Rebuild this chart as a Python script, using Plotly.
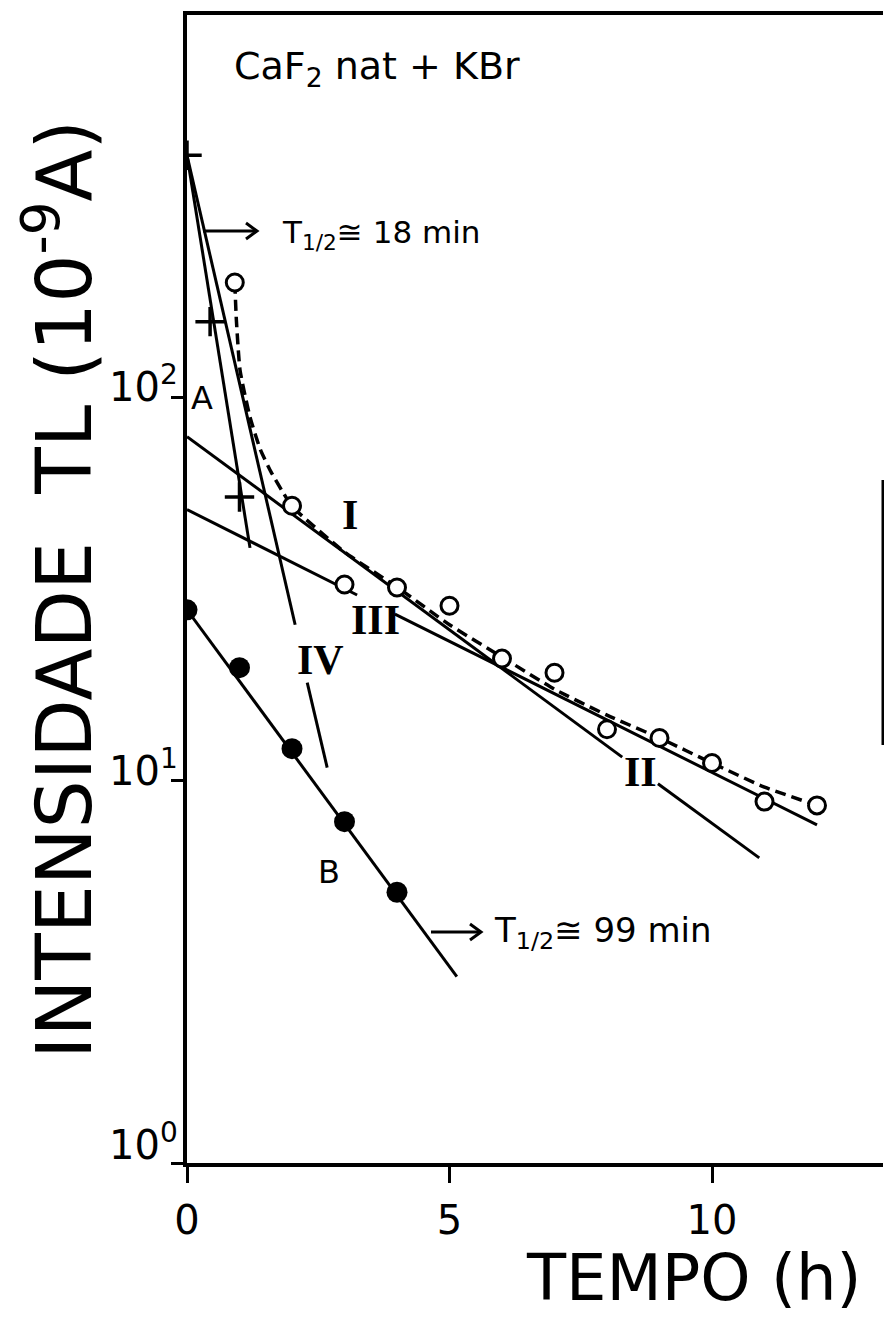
import plotly.graph_objects as go

# ---- data (time in hours, TL intensity in 1e-9 A) ----
# curve A: open circles (total decay)
a_time = [0.91, 2, 3, 4, 5, 6, 7, 8, 9, 10, 11, 12]
a_int = [200, 52.2, 32.5, 31.9, 28.6, 20.8, 19.1, 13.6, 12.9, 11.1, 8.8, 8.6]

# dashed smooth curve through curve A
a_fit_time = [0.91, 0.94, 1.01, 1.2, 1.4, 1.6, 1.83, 2.0, 3.0, 4.0, 5.0, 6.0, 7.0, 8.0, 9.0, 10.0, 11.0, 12.0]
a_fit_int = [200, 160, 118, 89, 73, 64, 56.5, 52, 39.5, 32, 25.5, 21, 17.3, 14.8, 12.9, 11.1, 9.6, 8.6]

# crosses: fast component after subtraction
plus_time = [0, 0.44, 1.0]
plus_int = [430, 158, 55]

# curve B: filled circles
b_time = [0, 1, 2, 3, 4]
b_int = [27.9, 19.7, 12.1, 7.8, 5.1]

# straight-line components (end points; None leaves room for a label)
fast_time = [0, 1.2]          # T1/2 ~ 18 min
fast_int = [430, 40.5]
b_line_time = [0, 5.14]       # T1/2 ~ 99 min
b_line_int = [27.9, 3.07]
line1_time = [0, 8.29, None, 8.97, 10.9]   # lines I / II
line1_int = [79.1, 11.5, None, 9.8, 6.27]
line3_time = [0, 3.24, None, 3.96, 12.0]   # line III
line3_int = [51.0, 30.5, None, 27.2, 7.65]
line4_time = [0, 2.06, None, 2.29, 2.67]   # line IV
line4_int = [430, 25.5, None, 18.0, 10.8]

# ---- layout geometry (pixels) ----
W, H = 884, 1320
L, R, T, B = 187, 883, 15, 1163


def px(x):
    return (x - L) / (R - L)


def py(y):
    return (B - y) / (B - T)


fig = go.Figure()

solid = dict(color="black", width=3)
for xs, ys in [(fast_time, fast_int), (b_line_time, b_line_int), (line1_time, line1_int),
               (line3_time, line3_int), (line4_time, line4_int)]:
    fig.add_trace(go.Scatter(x=xs, y=ys, mode="lines", line=solid, connectgaps=False,
                             hoverinfo="skip", showlegend=False))

fig.add_trace(go.Scatter(x=a_fit_time, y=a_fit_int, mode="lines",
                         line=dict(color="black", width=3.5, dash="11px,6px", shape="spline", smoothing=0.5),
                         hoverinfo="skip", showlegend=False))

fig.add_trace(go.Scatter(x=b_time, y=b_int, mode="markers",
                         marker=dict(symbol="circle", size=21, color="black"), showlegend=False))
fig.add_trace(go.Scatter(x=a_time, y=a_int, mode="markers",
                         marker=dict(symbol="circle", size=17, color="white",
                                     line=dict(color="black", width=3)), showlegend=False))
fig.add_trace(go.Scatter(x=plus_time, y=plus_int, mode="markers",
                         marker=dict(symbol="cross-thin", size=21,
                                     line=dict(color="black", width=3.5)), showlegend=False))

font_sans = "DejaVu Sans"
font_serif = "Liberation Serif"

ann = []


def text(x, y, s, size, anchor="center", family=font_sans, angle=0):
    ann.append(dict(x=px(x), y=py(y), xref="paper", yref="paper", text=s, showarrow=False,
                    xanchor=anchor, yanchor="middle", textangle=angle,
                    font=dict(family=family, size=size, color="black")))


text(232, 68, "CaF<sub>2</sub> nat + KBr", 38, anchor="left")
text(280, 234, "T<sub>1/2</sub>≅ 18 min", 31, anchor="left")
text(492, 932, "T<sub>1/2</sub>≅ 99 min", 34, anchor="left")
text(202, 398, "A", 32)
text(329, 872, "B", 32)
text(350, 515, "<b>I</b>", 42, family=font_serif)
text(375, 620, "<b>III</b>", 42, family=font_serif)
text(320, 660, "<b>IV</b>", 42, family=font_serif)
text(640, 772, "<b>II</b>", 42, family=font_serif)

# y tick labels
text(180, 384, "10<sup>2</sup>", 40, anchor="right")
text(180, 768, "10<sup>1</sup>", 40, anchor="right")
text(180, 1142, "10<sup>0</sup>", 40, anchor="right")

# axis titles
text(60, 590, "INTENSIDADE  TL (10<sup>-9</sup>A)", 76, angle=-90)
text(694, 1278, "TEMPO (h)", 64)

fig.update_layout(annotations=ann)

# arrows next to the half-life labels
shapes = []
for (x0, x1, y) in [(203, 257, 231), (431, 481, 932)]:
    shapes.append(dict(type="line", xref="paper", yref="paper", x0=px(x0), x1=px(x1),
                       y0=py(y), y1=py(y), line=dict(color="black", width=3)))
    shapes.append(dict(type="path", xref="paper", yref="paper",
                       path=f"M {px(x1-11)},{py(y-8)} L {px(x1)},{py(y)} L {px(x1-11)},{py(y+8)}",
                       line=dict(color="black", width=3)))
# partial right frame edge
shapes.append(dict(type="line", xref="paper", yref="paper", x0=1, x1=1, y0=py(745), y1=py(480),
                   line=dict(color="black", width=3)))
fig.update_layout(shapes=shapes)

fig.update_xaxes(range=[0, (R - L) / 52.5], tickvals=[0, 5, 10], ticktext=["0", "5", "10"],
                 ticks="outside", ticklen=16, tickwidth=3, tickcolor="black",
                 showline=True, linewidth=4, linecolor="black", mirror=True,
                 showgrid=False, zeroline=False,
                 tickfont=dict(family=font_sans, size=40, color="black"), ticklabelstandoff=3)
fig.update_yaxes(type="log", range=[0, 3], tickvals=[1, 10, 100],
                 ticks="outside", ticklen=12, tickwidth=3, tickcolor="black",
                 showline=True, linewidth=4, linecolor="black", mirror=False,
                 showgrid=False, zeroline=False, showticklabels=False)

fig.update_layout(width=W, height=H, margin=dict(l=L, r=W - R, t=T, b=H - B),
                  paper_bgcolor="white", plot_bgcolor="white", showlegend=False)

fig.write_html("out.html")
